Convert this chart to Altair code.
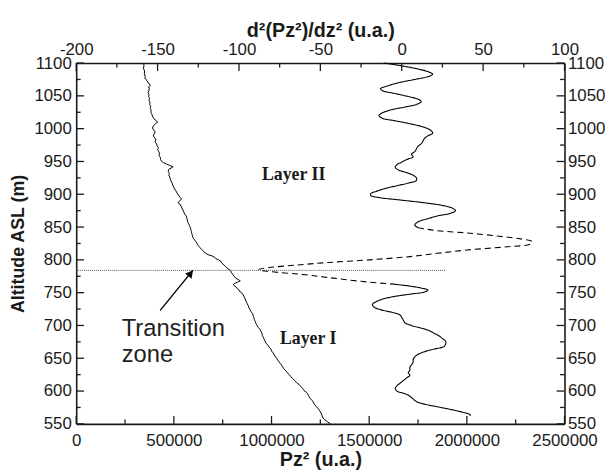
import altair as alt
import pandas as pd

# ---------------- data ----------------
# Pz^2 profile (bottom axis)
pz_alt = [1100, 1096, 1092, 1088, 1084, 1080, 1077, 1074, 1071, 1068, 1066, 1064, 1061, 1058, 1055,
          1052, 1049, 1046, 1043, 1040, 1037, 1034, 1031, 1028, 1025, 1022, 1019, 1016, 1013, 1010,
          1008, 1006, 1004, 1001, 998, 995, 992, 989, 986, 983, 980, 977, 974, 971, 968, 965, 962,
          959, 956, 953, 950, 948, 946, 944, 942, 940, 938, 935, 932, 929, 926, 923, 920, 917, 914,
          911, 908, 905, 902, 899, 896, 893, 891, 889, 887, 885, 882, 879, 876, 873, 870, 867, 864,
          861, 858, 855, 852, 849, 846, 843, 840, 837, 834, 831, 828, 825, 822, 819, 816, 813, 810,
          808, 806, 804, 802, 800, 798, 795, 792, 789, 786, 784, 781, 778, 775, 772, 770, 768, 766,
          764, 762, 760, 757, 754, 751, 748, 745, 742, 739, 736, 733, 730, 727, 724, 721, 718, 715,
          712, 709, 706, 703, 700, 697, 694, 691, 688, 685, 682, 679, 676, 673, 670, 667, 664, 661,
          658, 655, 652, 649, 646, 643, 640, 637, 634, 631, 628, 625, 622, 619, 616, 613, 610, 607,
          604, 601, 598, 595, 592, 589, 586, 583, 580, 577, 574, 571, 568, 565, 562, 559, 556, 553, 550]
pz_val = [345000, 347000, 344000, 350000, 349000, 353000, 352000, 360000, 366000, 374000, 380000,
          371000, 374000, 372000, 368000, 373000, 371000, 375000, 373000, 378000, 376000, 381000,
          379000, 384000, 382000, 388000, 390000, 396000, 405000, 417000, 408000, 400000, 395000,
          390000, 397000, 404000, 399000, 395000, 402000, 407000, 404000, 411000, 414000, 421000,
          417000, 423000, 427000, 424000, 431000, 432000, 438000, 448000, 462000, 478000, 496000,
          486000, 474000, 471000, 477000, 474000, 480000, 481000, 486000, 491000, 494000, 499000,
          504000, 511000, 516000, 523000, 530000, 539000, 534000, 526000, 521000, 531000, 537000,
          541000, 546000, 551000, 555000, 563000, 566000, 569000, 570000, 576000, 580000, 585000,
          587000, 590000, 592000, 595000, 597000, 605000, 612000, 619000, 624000, 633000, 642000,
          653000, 662000, 674000, 696000, 708000, 714000, 729000, 740000, 746000, 757000, 768000,
          778000, 790000, 794000, 801000, 808000, 817000, 830000, 840000, 826000, 810000, 804000,
          813000, 822000, 833000, 840000, 853000, 858000, 863000, 866000, 871000, 876000, 881000,
          884000, 890000, 895000, 903000, 906000, 909000, 912000, 917000, 920000, 926000, 932000,
          941000, 946000, 951000, 953000, 958000, 962000, 967000, 972000, 981000, 988000, 997000,
          1000000, 1009000, 1014000, 1021000, 1028000, 1035000, 1042000, 1051000, 1056000, 1063000,
          1072000, 1081000, 1090000, 1099000, 1108000, 1119000, 1128000, 1141000, 1150000, 1159000,
          1166000, 1179000, 1186000, 1191000, 1197000, 1207000, 1214000, 1219000, 1227000, 1237000,
          1244000, 1251000, 1256000, 1259000, 1263000, 1273000, 1287000, 1302000]

# second derivative profile (top axis)
d2_alt = [1100, 1097, 1092, 1087, 1083, 1080, 1075, 1070, 1065, 1061, 1058, 1054, 1049, 1045, 1041,
          1037, 1033, 1029, 1024, 1020, 1016, 1012, 1007, 1002, 997, 993, 989, 985, 981, 977, 973,
          969, 965, 961, 957, 953, 949, 945, 941, 937, 933, 929, 925, 921, 917, 913, 909, 905, 901,
          898, 895, 891, 887, 883, 879, 875, 871, 867, 862, 858, 853, 849, 845, 841, 836, 832, 828,
          824, 820, 815, 810, 805, 800, 796, 792, 788, 785, 782, 778, 774, 770, 766, 763, 760, 757,
          754, 751, 748, 744, 740, 736, 732, 728, 724, 720, 716, 712, 708, 704, 700, 696, 692, 688,
          684, 680, 676, 672, 668, 664, 660, 656, 652, 648, 644, 640, 636, 632, 628, 624, 620, 616,
          612, 608, 604, 600, 596, 592, 588, 584, 580, 576, 572, 568, 564, 562]
d2_val = [-11, -3, 8, 16, 19, 17, 8, -2, -9, -13, -12, -5, 4, 10, 12, 9, 2, -6, -12, -14, -12, -4, 6,
          14, 18, 19, 16, 14, 13, 12, 10, 9, 8, 6, 7, 3, 0, -3, -4, -2, 3, 7, 9, 9, 4, -3, -10, -15,
          -19, -19, -14, 0, 14, 25, 31, 33, 30, 22, 15, 10, 8, 10, 20, 40, 60, 73, 80, 79, 65, 40,
          22, 5, -20, -45, -65, -82, -88, -80, -62, -48, -35, -20, -5, 5, 12, 16, 14, 6, -5, -12,
          -16, -18, -17, -13, -6, -1, 0, 1, 2, 6, 12, 17, 20, 23, 25, 27, 27, 26, 20, 14, 10, 8, 7,
          7, 6, 5, 5, 4, 5, 3, 1, -1, -3, -4, -3, 2, 5, 7, 9, 14, 22, 30, 37, 42, 42]

# annotations
transition_alt = 784
transition_pz_end = 1893000
arrow_pz = [430000, 597000]
arrow_alt = [723, 784]
note_text = ["Transition", "zone"]
note_pz = [233000, 233000]
note_alt = [684, 645]
layer_text = ["Layer II", "Layer I"]
layer_pz = [951000, 1043000]
layer_alt = [922, 672]

# axis ticks
pz_major = [0, 500000, 1000000, 1500000, 2000000, 2500000]
pz_minor = [250000, 750000, 1250000, 1750000, 2250000]
alt_major = [550, 600, 650, 700, 750, 800, 850, 900, 950, 1000, 1050, 1100]
alt_minor = [575, 625, 675, 725, 775, 825, 875, 925, 975, 1025, 1075]
d2_major = [-200, -150, -100, -50, 0, 50, 100]
d2_minor = [-175, -125, -75, -25, 25, 75]

# ---------------- layout ----------------
W, H = 494, 365
MAJ, MIN = 8, 4.5
FONT = "Liberation Sans"
INK = "#1a1a1a"

def xA():
    return alt.Scale(domain=[0, 2500000], nice=False, zero=False)

def xB():
    return alt.Scale(domain=[-200, 100], nice=False, zero=False)

def yS():
    return alt.Scale(domain=[550, 1100], nice=False, zero=False)

common = dict(grid=False, ticks=False, tickSize=0, domainColor=INK, domainWidth=1.6,
              labelFont=FONT, labelFontSize=17, labelColor=INK, labelOverlap=False,
              labelFlush=False, labelBound=False, titleFont=FONT, titleFontWeight="bold",
              titleColor=INK)

ax_bottom = alt.Axis(orient="bottom", title="Pz² (u.a.)", values=pz_major, format="d",
                     labelPadding=9, titleX=W / 2, titleY=42, titleBaseline="alphabetic",
                     titleAlign="center", titleFontSize=20, **common)
ax_left = alt.Axis(orient="left", title="Altitude ASL (m)", values=alt_major, format="d",
                   labelPadding=5, titleX=-53, titleY=H / 2, titleAngle=270,
                   titleBaseline="alphabetic", titleAlign="center", titleFontSize=18, **common)
ax_top = alt.Axis(orient="top", title="d²(Pz²)/dz² (u.a.)", values=d2_major,
                  labelExpr="datum.value < 0 ? '-' + (-datum.value) : '' + datum.value",
                  labelPadding=5, titleX=W / 2, titleY=-27, titleBaseline="alphabetic",
                  titleAlign="center", titleFontSize=20, **common)
ax_right = alt.Axis(orient="right", title=None, values=alt_major, format="d",
                    labelPadding=3, **common)

# ---------------- Pz^2 marks ----------------
pz_df = pd.DataFrame({"alt": pz_alt, "p": pz_val, "i": range(len(pz_alt))})
pz_line = alt.Chart(pz_df).mark_line(color="black", strokeWidth=1).encode(
    x=alt.X("p:Q", scale=xA(), axis=ax_bottom),
    y=alt.Y("alt:Q", scale=yS(), axis=ax_left),
    order="i:Q",
)

dotted_df = pd.DataFrame({"p": [0], "p2": [transition_pz_end], "alt": [transition_alt]})
dotted = alt.Chart(dotted_df).mark_rule(color="#555555", strokeWidth=1, strokeDash=[1, 1]).encode(
    x=alt.X("p:Q", scale=xA(), axis=None), x2="p2:Q",
    y=alt.Y("alt:Q", scale=yS(), axis=None),
)

arrow_df = pd.DataFrame({"p": [arrow_pz[0]], "p2": [arrow_pz[1]],
                         "a": [arrow_alt[0]], "a2": [arrow_alt[1]]})
arrow = alt.Chart(arrow_df).mark_rule(color="black", strokeWidth=1.4).encode(
    x=alt.X("p:Q", scale=xA(), axis=None), x2="p2:Q",
    y=alt.Y("a:Q", scale=yS(), axis=None), y2="a2:Q",
)
head_df = pd.DataFrame({"p": [arrow_pz[1] - 11000], "a": [arrow_alt[1] - 4.5]})
head = alt.Chart(head_df).mark_point(shape="triangle-up", filled=True, color="black",
                                     size=70, angle=39, opacity=1).encode(
    x=alt.X("p:Q", scale=xA(), axis=None),
    y=alt.Y("a:Q", scale=yS(), axis=None),
)

note_df = pd.DataFrame({"t": note_text, "p": note_pz, "a": note_alt})
note = alt.Chart(note_df).mark_text(align="left", baseline="alphabetic", font=FONT,
                                    fontSize=24, color="#222222").encode(
    x=alt.X("p:Q", scale=xA(), axis=None),
    y=alt.Y("a:Q", scale=yS(), axis=None),
    text="t:N",
)

layer_df = pd.DataFrame({"t": layer_text, "p": layer_pz, "a": layer_alt})
layers_txt = alt.Chart(layer_df).mark_text(align="left", baseline="alphabetic",
                                           font="Liberation Serif", fontWeight="bold",
                                           fontSize=18, color="#1a1a1a").encode(
    x=alt.X("p:Q", scale=xA(), axis=None),
    y=alt.Y("a:Q", scale=yS(), axis=None),
    text="t:N",
)

def xrule(vals, scale, length, top):
    df = pd.DataFrame({"v": vals})
    if top:
        y0, y1 = 0, length
    else:
        y0, y1 = H, H - length
    return alt.Chart(df).mark_rule(color=INK, strokeWidth=1.3).encode(
        x=alt.X("v:Q", scale=scale, axis=None), y=alt.value(y0), y2=alt.value(y1))

def yrule(vals, length, right):
    df = pd.DataFrame({"v": vals})
    if right:
        x0, x1 = W, W - length
    else:
        x0, x1 = 0, length
    return alt.Chart(df).mark_rule(color=INK, strokeWidth=1.3).encode(
        y=alt.Y("v:Q", scale=yS(), axis=None), x=alt.value(x0), x2=alt.value(x1))

# ---------------- second derivative marks ----------------
rows = []
for k, (a, v) in enumerate(zip(d2_alt, d2_val)):
    if a >= 849:
        segs = ["s1"] + (["s2"] if a == 849 else [])
    elif a >= 763:
        segs = ["s2"] + (["s3"] if a == 763 else [])
    else:
        segs = ["s3"]
    for s in segs:
        rows.append({"alt": a, "v": v, "seg": s, "i": k})
d2_df = pd.DataFrame(rows)

d2_line = alt.Chart(d2_df).mark_line(color="black", strokeWidth=1.1,
                                     interpolate="catmull-rom").encode(
    x=alt.X("v:Q", scale=xB(), axis=ax_top),
    y=alt.Y("alt:Q", scale=yS(), axis=ax_right),
    detail="seg:N",
    strokeDash=alt.StrokeDash("seg:N", legend=None,
                              scale=alt.Scale(domain=["s1", "s2", "s3"],
                                              range=[[1, 0], [6, 4], [1, 0]])),
    order="i:Q",
)

chart = alt.layer(
    pz_line, d2_line, dotted, arrow, head, note, layers_txt,
    xrule(pz_major, xA(), MAJ, False), xrule(pz_minor, xA(), MIN, False),
    yrule(alt_major, MAJ, False), yrule(alt_minor, MIN, False),
    xrule(d2_major, xB(), MAJ, True), xrule(d2_minor, xB(), MIN, True),
    yrule(alt_major, MAJ, True), yrule(alt_minor, MIN, True),
).resolve_scale(
    x="independent", y="independent"
).properties(
    width=W, height=H,
    padding={"left": 69, "top": 53, "right": 44, "bottom": 47},
    autosize=alt.AutoSizeParams(type="none"),
    background="white",
).configure_view(stroke=None)

chart.save("out.html", embed_options={"renderer": "svg", "actions": False})
